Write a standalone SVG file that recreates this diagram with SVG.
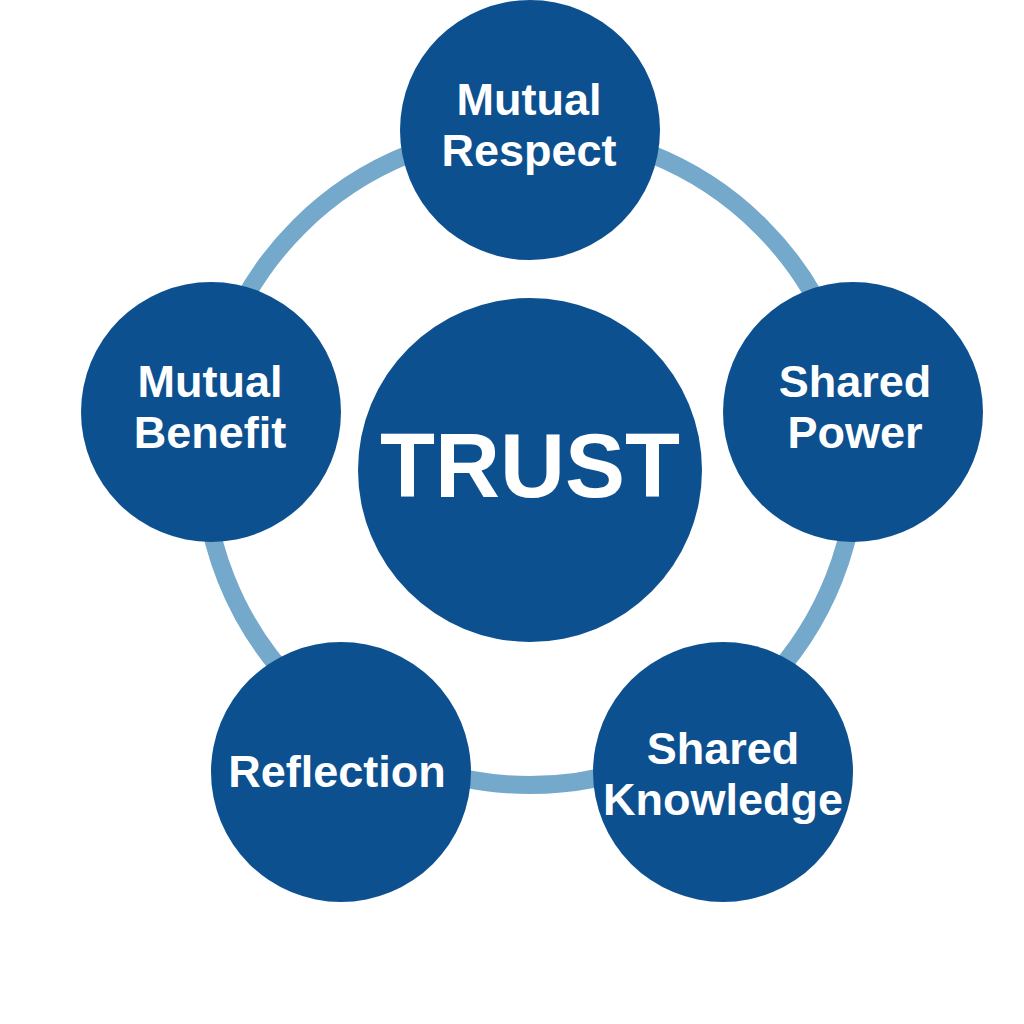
<svg xmlns="http://www.w3.org/2000/svg" width="1024" height="1024" viewBox="0 0 1024 1024">
<style>
.node{fill:#0D5090}
.lbl{font-family:"Liberation Sans",Arial,sans-serif;font-weight:bold;fill:#FFFFFF;text-anchor:middle;font-size:45px}
.big{font-size:90px}
</style>
<rect width="1024" height="1024" fill="#FFFFFF"/>
<g id="connectors">
<circle cx="530" cy="458" r="327" fill="none" stroke="#74A9CB" stroke-width="18"/>
</g>
<g id="trust"><circle class="node" cx="530" cy="470" r="172"/><text class="lbl big" x="530" y="497">TRUST</text></g>
<g id="mutual-respect"><circle class="node" cx="530" cy="130" r="130"/><text class="lbl" x="529" y="115">Mutual</text><text class="lbl" x="529" y="166">Respect</text></g>
<g id="shared-power"><circle class="node" cx="853" cy="412" r="130"/><text class="lbl" x="855" y="397">Shared</text><text class="lbl" x="855" y="448">Power</text></g>
<g id="mutual-benefit"><circle class="node" cx="211" cy="412" r="130"/><text class="lbl" x="210" y="397">Mutual</text><text class="lbl" x="210" y="448">Benefit</text></g>
<g id="reflection"><circle class="node" cx="341" cy="772" r="130"/><text class="lbl" x="337" y="787">Reflection</text></g>
<g id="shared-knowledge"><circle class="node" cx="723" cy="772" r="130"/><text class="lbl" x="723" y="764">Shared</text><text class="lbl" x="723" y="815">Knowledge</text></g>
</svg>
